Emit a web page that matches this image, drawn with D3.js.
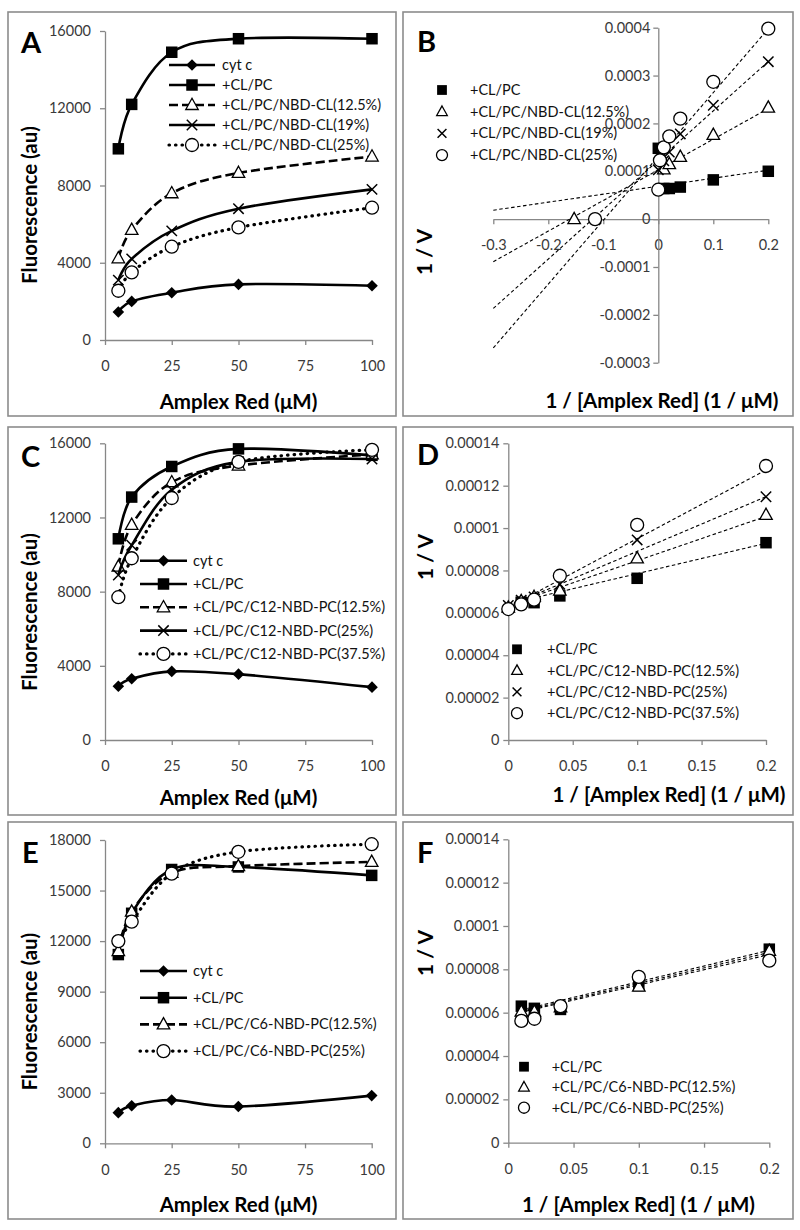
<!DOCTYPE html>
<html><head><meta charset="utf-8">
<script src="https://cdn.jsdelivr.net/npm/d3@7"></script>
<style>
body{margin:0;background:#fff}
svg{display:block}
text{font-family:Lato,'Open Sans',sans-serif}
</style>
</head><body>
<svg id="chart" width="800" height="1230"></svg>
<script>
// ---------------- DATA ----------------
const amplexRed = [5, 10, 25, 50, 100];
const concTicks = [0, 25, 50, 75, 100];
const concTickLabels = ['0', '25', '50', '75', '100'];

// Panel A
const aNames = ['cyt c', '+CL/PC', '+CL/PC/NBD-CL(12.5%)', '+CL/PC/NBD-CL(19%)', '+CL/PC/NBD-CL(25%)'];
const aCytC = [1450, 2000, 2450, 2880, 2810];
const aClPc = [9900, 12200, 14900, 15600, 15600];
const aNbd125 = [4230, 5700, 7600, 8650, 9500];
const aNbd19 = [3100, 4200, 5650, 6800, 7800];
const aNbd25 = [2550, 3500, 4830, 5830, 6850];
const aYTicks = [0, 4000, 8000, 12000, 16000];
const aYTickLabels = ['0', '4000', '8000', '12000', '16000'];

// Panel B
const bNames = ['+CL/PC', '+CL/PC/NBD-CL(12.5%)', '+CL/PC/NBD-CL(19%)', '+CL/PC/NBD-CL(25%)'];
const bClPcX = [0, 0.01, 0.02, 0.04, 0.1, 0.2];
const bClPcY = [0.000148, 0.000064, 0.000064, 0.000067, 0.000082, 0.0001];
const bNbd125X = [-0.153, 0.01, 0.02, 0.04, 0.1, 0.2];
const bNbd125Y = [0, 0.000104, 0.000115, 0.00013, 0.000176, 0.000233];
const bNbd19X = [0, 0.01, 0.02, 0.04, 0.1, 0.2];
const bNbd19Y = [0.000103, 0.000122, 0.00014, 0.000178, 0.000238, 0.000329];
const bNbd25X = [-0.115, 0, 0.003, 0.01, 0.02, 0.04, 0.1, 0.2];
const bNbd25Y = [0, 0.0000615, 0.000123, 0.00015, 0.000173, 0.00021, 0.000287, 0.000398];
const bTrendIntercept = [0.0000688, 0.000103, 0.000123, 0.000131];
const bTrendSlope = [0.000167, 0.00064, 0.001032, 0.001334];
const bTrendRange = [-0.3, 0.2];
const bXTicks = [-0.3, -0.2, -0.1, 0, 0.1, 0.2];
const bXTickLabels = ['-0.3', '-0.2', '-0.1', '0', '0.1', '0.2'];
const bYTicks = [-0.0003, -0.0002, -0.0001, 0, 0.0001, 0.0002, 0.0003, 0.0004];
const bYTickLabels = ['-0.0003', '-0.0002', '-0.0001', '0', '0.0001', '0.0002', '0.0003', '0.0004'];

// Panel C
const cNames = ['cyt c', '+CL/PC', '+CL/PC/C12-NBD-PC(12.5%)', '+CL/PC/C12-NBD-PC(25%)', '+CL/PC/C12-NBD-PC(37.5%)'];
const cCytC = [2900, 3300, 3700, 3550, 2850];
const cClPc = [10850, 13100, 14750, 15700, 15350];
const cC12_125 = [9350, 11600, 13900, 14800, 15400];
const cC12_25 = [8900, 10500, 13500, 15000, 15150];
const cC12_375 = [7700, 9800, 13050, 15000, 15650];
const cYTicks = [0, 4000, 8000, 12000, 16000];
const cYTickLabels = ['0', '4000', '8000', '12000', '16000'];

// Panel D
const dNames = ['+CL/PC', '+CL/PC/C12-NBD-PC(12.5%)', '+CL/PC/C12-NBD-PC(25%)', '+CL/PC/C12-NBD-PC(37.5%)'];
const dClPcX = [0.01, 0.02, 0.04, 0.1, 0.2];
const dClPcY = [0.0000650, 0.0000648, 0.0000680, 0.0000763, 0.0000931];
const dC12_125X = [0, 0.01, 0.02, 0.04, 0.1, 0.2];
const dC12_125Y = [0.0000625, 0.0000655, 0.0000675, 0.0000705, 0.0000857, 0.0001062];
const dC12_25X = [0, 0.01, 0.02, 0.04, 0.1, 0.2];
const dC12_25Y = [0.0000635, 0.000066, 0.0000675, 0.0000735, 0.0000944, 0.0001148];
const dC12_375X = [0, 0.01, 0.02, 0.04, 0.1, 0.2];
const dC12_375Y = [0.0000618, 0.000064, 0.0000662, 0.0000775, 0.0001015, 0.0001293];
const dTrendIntercept = [0.0000642, 0.0000637, 0.0000632, 0.0000626];
const dTrendSlope = [0.000143, 0.000209, 0.000258, 0.000324];
const dTrendRange = [0, 0.2];

// Panel E
const eNames = ['cyt c', '+CL/PC', '+CL/PC/C6-NBD-PC(12.5%)', '+CL/PC/C6-NBD-PC(25%)'];
const eCytC = [1820, 2230, 2570, 2180, 2830];
const eClPc = [11200, 13650, 16250, 16400, 15900];
const eC6_125 = [11400, 13750, 16050, 16450, 16700];
const eC6_25 = [12000, 13150, 16000, 17300, 17750];
const eYTicks = [0, 3000, 6000, 9000, 12000, 15000, 18000];
const eYTickLabels = ['0', '3000', '6000', '9000', '12000', '15000', '18000'];

// Panel F
const fNames = ['+CL/PC', '+CL/PC/C6-NBD-PC(12.5%)', '+CL/PC/C6-NBD-PC(25%)'];
const fX = [0.01, 0.02, 0.04, 0.1, 0.2];
const fClPcY = [0.0000630, 0.0000620, 0.0000615, 0.0000725, 0.0000893];
const fC6_125Y = [0.0000605, 0.0000605, 0.0000625, 0.0000720, 0.0000885];
const fC6_25Y = [0.0000562, 0.0000572, 0.0000630, 0.0000765, 0.0000840];
const fTrendIntercept = [0.0000598, 0.0000592, 0.0000588];
const fTrendSlope = [0.000145, 0.000143, 0.000140];
const fTrendRange = [0.01, 0.2];

// shared D/F axes
const lwXTicks = [0, 0.05, 0.1, 0.15, 0.2];
const lwXTickLabels = ['0', '0.05', '0.1', '0.15', '0.2'];
const lwYTicks = [0, 0.00002, 0.00004, 0.00006, 0.00008, 0.0001, 0.00012, 0.00014];
const lwYTickLabels = ['0', '0.00002', '0.00004', '0.00006', '0.00008', '0.0001', '0.00012', '0.00014'];

// ---------------- DRAWING ----------------
const svg = d3.select('#chart');
const AXIS = '#878787';
const INK = '#000';
const TICK_FS = 14.5;

function drawFrame(f) {
  svg.append('rect').attr('x', f[0]).attr('y', f[1]).attr('width', f[2] - f[0]).attr('height', f[3] - f[1])
    .attr('fill', 'none').attr('stroke', '#8c8c8c').attr('stroke-width', 1.6);
}

function drawMarker(g, type, cx, cy, big) {
  const k = big ? 1 : 0.85;
  if (type === 'diamond') {
    const r = 5.8 * k;
    g.append('path').attr('d', `M${cx},${cy - r}L${cx + r},${cy}L${cx},${cy + r}L${cx - r},${cy}Z`).attr('fill', INK);
  } else if (type === 'square') {
    const s = 11.5 * k;
    g.append('rect').attr('x', cx - s / 2).attr('y', cy - s / 2).attr('width', s).attr('height', s).attr('fill', INK);
  } else if (type === 'triangle') {
    const s = 12.5 * k, h = s * 0.9;
    g.append('path').attr('d', `M${cx},${cy - h * 0.6}L${cx + s / 2},${cy + h * 0.4}L${cx - s / 2},${cy + h * 0.4}Z`)
      .attr('fill', '#fff').attr('stroke', INK).attr('stroke-width', 1.3);
  } else if (type === 'cross') {
    const r = 5.2 * k;
    g.append('path').attr('d', `M${cx - r},${cy - r}L${cx + r},${cy + r}M${cx - r},${cy + r}L${cx + r},${cy - r}`)
      .attr('stroke', INK).attr('stroke-width', 1.5).attr('fill', 'none');
  } else if (type === 'circle') {
    g.append('circle').attr('cx', cx).attr('cy', cy).attr('r', 6.5 * k)
      .attr('fill', '#fff').attr('stroke', INK).attr('stroke-width', 1.3);
  }
}

function lineStyle(sel, dash) {
  sel.attr('fill', 'none').attr('stroke', INK).attr('stroke-width', 2.6);
  if (dash === 'dashed') sel.attr('stroke-dasharray', '9,4');
  if (dash === 'dotted') sel.attr('stroke-dasharray', '0.5,6').attr('stroke-linecap', 'round').attr('stroke-width', 3.2);
}

function styleAxis(g, fontSize) {
  g.select('.domain').attr('stroke', AXIS).attr('stroke-width', 1.3);
  g.selectAll('.tick line').attr('stroke', AXIS).attr('stroke-width', 1.3);
  g.selectAll('.tick text').attr('fill', '#3a3a3a').style('font-size', fontSize + 'px').style('font-family', 'Lato, sans-serif');
}

function drawTexts(p) {
  svg.append('text').attr('x', p.letter[0]).attr('y', p.letter[1]).text(p.id)
    .style('font-size', '29px').style('font-weight', 'bold');
  svg.append('text').attr('transform', `translate(${p.yTitle[0]},${p.yTitle[1]}) rotate(-90)`)
    .attr('text-anchor', 'middle').attr('dy', '0.35em').text(p.yTitleText)
    .style('font-size', p.yTitleSize + 'px').style('font-weight', 'bold');
  svg.append('text').attr('x', p.xTitle[0]).attr('y', p.xTitle[1]).attr('text-anchor', 'middle').attr('dy', '0.35em')
    .text(p.xTitleText).style('font-size', '20.5px').style('font-weight', 'bold');
}

// Saturation panels (A, C, E)
function satPanel(p) {
  drawFrame(p.frame);
  const x = d3.scaleLinear().domain([0, 100]).range(p.xr);
  const y = d3.scaleLinear().domain([0, p.yTicks[p.yTicks.length - 1]]).range(p.yr);
  const gx = svg.append('g').attr('transform', `translate(0,${p.yr[0]})`)
    .call(d3.axisBottom(x).tickValues(concTicks).tickFormat((d, i) => concTickLabels[i]).tickSize(5).tickSizeOuter(0).tickPadding(16));
  styleAxis(gx, TICK_FS);
  const gy = svg.append('g').attr('transform', `translate(${p.xr[0]},0)`)
    .call(d3.axisLeft(y).tickValues(p.yTicks).tickFormat((d, i) => p.yTickLabels[i]).tickSize(5).tickSizeOuter(0).tickPadding(9));
  styleAxis(gy, TICK_FS);
  const line = d3.line().x(d => x(d[0])).y(d => y(d[1])).curve(d3.curveCardinal.tension(0));
  p.series.forEach(s => {
    const pts = amplexRed.map((a, i) => [a, s.values[i]]);
    const g = svg.append('g');
    g.append('path').attr('d', line(pts)).call(lineStyle, s.dash);
    pts.forEach(d => drawMarker(g, s.marker, x(d[0]), y(d[1]), true));
  });
  // legend
  p.series.forEach((s, i) => {
    const ly = p.legend.y0 + i * p.legend.dy;
    const g = svg.append('g');
    g.append('path').attr('d', `M${p.legend.x0},${ly}H${p.legend.x1}`).call(lineStyle, s.dash);
    drawMarker(g, s.marker, (p.legend.x0 + p.legend.x1) / 2, ly, true);
    g.append('text').attr('x', p.legend.tx).attr('y', ly).attr('dy', '0.35em').text(s.name)
      .style('font-size', p.legend.fs + 'px').attr('fill', '#111');
  });
  drawTexts(p);
}

// Lineweaver-Burk panels (B, D, F)
function lbPanel(p) {
  drawFrame(p.frame);
  const x = d3.scaleLinear().domain([p.xTicks[0], p.xTicks[p.xTicks.length - 1]]).range(p.xr);
  const y = d3.scaleLinear().domain([p.yTicks[0], p.yTicks[p.yTicks.length - 1]]).range(p.yr);
  const gx = svg.append('g').attr('transform', `translate(0,${y(0)})`)
    .call(d3.axisBottom(x).tickValues(p.xTicks).tickFormat((d, i) => p.xTickLabels[i]).tickSize(5).tickSizeOuter(0).tickPadding(16));
  styleAxis(gx, TICK_FS);
  const gy = svg.append('g').attr('transform', `translate(${x(0)},0)`)
    .call(d3.axisLeft(y).tickValues(p.yTicks).tickFormat((d, i) => p.yTickLabels[i]).tickSize(5).tickSizeOuter(0).tickPadding(p.yPad));
  styleAxis(gy, TICK_FS);
  // trendlines
  p.series.forEach((s, i) => {
    const a = p.trend.intercept[i], b = p.trend.slope[i];
    const pts = p.trend.range.map(v => [v, a + b * v]);
    svg.append('path').attr('d', d3.line().x(d => x(d[0])).y(d => y(d[1]))(pts))
      .attr('fill', 'none').attr('stroke', INK).attr('stroke-width', 1.1).attr('stroke-dasharray', '3.5,2.5');
  });
  p.series.forEach(s => {
    const g = svg.append('g');
    s.xs.forEach((xv, i) => drawMarker(g, s.marker, x(xv), y(s.ys[i]), true));
  });
  p.series.forEach((s, i) => {
    const ly = p.legend.y0 + i * p.legend.dy;
    const g = svg.append('g');
    drawMarker(g, s.marker, p.legend.mx, ly, false);
    g.append('text').attr('x', p.legend.tx).attr('y', ly).attr('dy', '0.35em').text(s.name)
      .style('font-size', p.legend.fs + 'px').attr('fill', '#111');
  });
  drawTexts(p);
}

satPanel({
  id: 'A', frame: [8, 12, 396, 416], xr: [105, 372], yr: [340, 31],
  yTicks: aYTicks, yTickLabels: aYTickLabels,
  series: [
    { name: aNames[0], values: aCytC, marker: 'diamond', dash: 'solid' },
    { name: aNames[1], values: aClPc, marker: 'square', dash: 'solid' },
    { name: aNames[2], values: aNbd125, marker: 'triangle', dash: 'dashed' },
    { name: aNames[3], values: aNbd19, marker: 'cross', dash: 'solid' },
    { name: aNames[4], values: aNbd25, marker: 'circle', dash: 'dotted' }
  ],
  legend: { x0: 169, x1: 215, tx: 222, y0: 65, dy: 20, fs: 14.5 },
  letter: [21, 53], yTitle: [30, 205], yTitleText: 'Fluorescence (au)', yTitleSize: 20.5,
  xTitle: [238.5, 402], xTitleText: 'Amplex Red (\u03bcM)'
});

lbPanel({
  id: 'B', frame: [403, 12, 793, 416], xr: [493.3, 768.3], yr: [362.7, 27.7],
  xTicks: bXTicks, xTickLabels: bXTickLabels, yTicks: bYTicks, yTickLabels: bYTickLabels, yPad: 3,
  series: [
    { name: bNames[0], xs: bClPcX, ys: bClPcY, marker: 'square' },
    { name: bNames[1], xs: bNbd125X, ys: bNbd125Y, marker: 'triangle' },
    { name: bNames[2], xs: bNbd19X, ys: bNbd19Y, marker: 'cross' },
    { name: bNames[3], xs: bNbd25X, ys: bNbd25Y, marker: 'circle' }
  ],
  trend: { intercept: bTrendIntercept, slope: bTrendSlope, range: bTrendRange },
  legend: { mx: 442, tx: 470, y0: 90, dy: 21.7, fs: 14.5 },
  letter: [417, 52], yTitle: [425, 252], yTitleText: '1 / V', yTitleSize: 21,
  xTitle: [662, 401], xTitleText: '1 / [Amplex Red] (1 / \u03bcM)'
});

satPanel({
  id: 'C', frame: [8, 427, 396, 815], xr: [105, 372], yr: [740, 443.3],
  yTicks: cYTicks, yTickLabels: cYTickLabels,
  series: [
    { name: cNames[0], values: cCytC, marker: 'diamond', dash: 'solid' },
    { name: cNames[1], values: cClPc, marker: 'square', dash: 'solid' },
    { name: cNames[2], values: cC12_125, marker: 'triangle', dash: 'dashed' },
    { name: cNames[3], values: cC12_25, marker: 'cross', dash: 'solid' },
    { name: cNames[4], values: cC12_375, marker: 'circle', dash: 'dotted' }
  ],
  legend: { x0: 140, x1: 187, tx: 193, y0: 560.7, dy: 23.3, fs: 14.5 },
  letter: [21, 467], yTitle: [30, 612], yTitleText: 'Fluorescence (au)', yTitleSize: 20.5,
  xTitle: [238.5, 798], xTitleText: 'Amplex Red (\u03bcM)'
});

lbPanel({
  id: 'D', frame: [403, 427, 793, 815], xr: [508.3, 766], yr: [740, 443.3],
  xTicks: lwXTicks, xTickLabels: lwXTickLabels, yTicks: lwYTicks, yTickLabels: lwYTickLabels, yPad: 4,
  series: [
    { name: dNames[0], xs: dClPcX, ys: dClPcY, marker: 'square' },
    { name: dNames[1], xs: dC12_125X, ys: dC12_125Y, marker: 'triangle' },
    { name: dNames[2], xs: dC12_25X, ys: dC12_25Y, marker: 'cross' },
    { name: dNames[3], xs: dC12_375X, ys: dC12_375Y, marker: 'circle' }
  ],
  trend: { intercept: dTrendIntercept, slope: dTrendSlope, range: dTrendRange },
  legend: { mx: 517, tx: 547, y0: 649.3, dy: 21.3, fs: 14.5 },
  letter: [417, 465], yTitle: [425.5, 557], yTitleText: '1 / V', yTitleSize: 21,
  xTitle: [669, 795], xTitleText: '1 / [Amplex Red] (1 / \u03bcM)'
});

satPanel({
  id: 'E', frame: [8, 822, 396, 1219], xr: [105, 371.7], yr: [1143.3, 840],
  yTicks: eYTicks, yTickLabels: eYTickLabels,
  series: [
    { name: eNames[0], values: eCytC, marker: 'diamond', dash: 'solid' },
    { name: eNames[1], values: eClPc, marker: 'square', dash: 'solid' },
    { name: eNames[2], values: eC6_125, marker: 'triangle', dash: 'dashed' },
    { name: eNames[3], values: eC6_25, marker: 'circle', dash: 'dotted' }
  ],
  legend: { x0: 140, x1: 187, tx: 193, y0: 971, dy: 26.7, fs: 14.5 },
  letter: [22, 863], yTitle: [30, 1011.7], yTitleText: 'Fluorescence (au)', yTitleSize: 20.5,
  xTitle: [238.5, 1205], xTitleText: 'Amplex Red (\u03bcM)'
});

lbPanel({
  id: 'F', frame: [403, 822, 793, 1219], xr: [508.3, 769.3], yr: [1142.7, 839.3],
  xTicks: lwXTicks, xTickLabels: lwXTickLabels, yTicks: lwYTicks, yTickLabels: lwYTickLabels, yPad: 4,
  series: [
    { name: fNames[0], xs: fX, ys: fClPcY, marker: 'square' },
    { name: fNames[1], xs: fX, ys: fC6_125Y, marker: 'triangle' },
    { name: fNames[2], xs: fX, ys: fC6_25Y, marker: 'circle' }
  ],
  trend: { intercept: fTrendIntercept, slope: fTrendSlope, range: fTrendRange },
  legend: { mx: 524, tx: 551.7, y0: 1066.7, dy: 20.5, fs: 14.5 },
  letter: [417, 863], yTitle: [425.5, 953], yTitleText: '1 / V', yTitleSize: 21,
  xTitle: [638.5, 1205], xTitleText: '1 / [Amplex Red] (1 / \u03bcM)'
});
</script>
</body></html>
